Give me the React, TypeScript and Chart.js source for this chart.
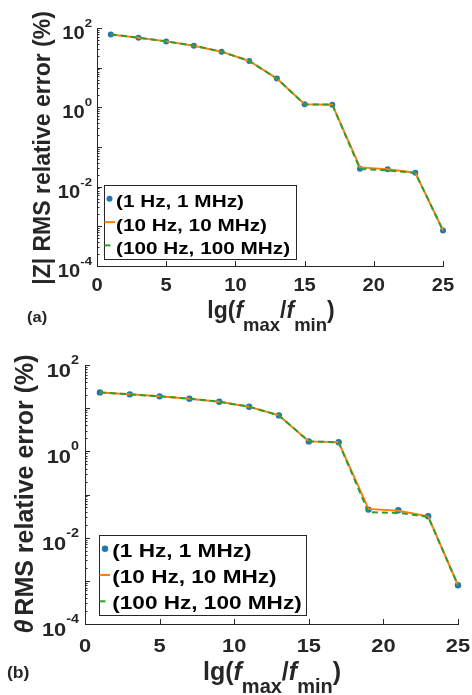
import { useEffect, useRef } from "react";
import { Chart, registerables } from "chart.js";
Chart.register(...registerables);

// ---------- data ----------
const xValues = [1, 3, 5, 7, 9, 11, 13, 15, 17, 19, 21, 23, 25];
const seriesLabels = ["(1 Hz, 1 MHz)", "(10 Hz, 10 MHz)", "(100 Hz, 100 MHz)"];
const zSeries1 = [69, 57, 46, 35.8, 25.3, 14.7, 5.3, 1.19, 1.17, 0.0284, 0.0273, 0.0225, 0.00079];
const zSeries2 = [69, 57, 46, 35.8, 25.3, 14.7, 5.3, 1.19, 1.17, 0.0306, 0.0273, 0.0225, 0.00079];
const zSeries3 = [69, 57, 46, 35.8, 25.3, 14.7, 5.3, 1.19, 1.17, 0.0279, 0.0257, 0.0222, 0.00079];
const thetaSeries1 = [23.2, 20.9, 18.8, 16.6, 14.1, 10.8, 6.8, 1.7, 1.62, 0.0447, 0.043, 0.0313, 0.00079];
const thetaSeries2 = [23.2, 20.9, 18.8, 16.6, 14.1, 10.8, 6.8, 1.7, 1.62, 0.0464, 0.042, 0.0313, 0.00079];
const thetaSeries3 = [23.2, 20.9, 18.8, 16.6, 14.1, 10.8, 6.8, 1.7, 1.62, 0.0387, 0.0375, 0.0305, 0.00079];
const xTicks = [0, 5, 10, 15, 20, 25];
const yTickValues = [1e-4, 1e-2, 1, 1e2];
const yTickExponents = ["-4", "-2", "0", "2"];
const seriesColors = ["#1f77b4", "#ff7f0e", "#2ca02c"];

// ---------- layout / style ----------
const FAM = '"Liberation Sans", Arial, Helvetica, sans-serif';
const AX = "#262626";
const font = (size: number, style = "bold") => `${style} ${size}px ${FAM}`;

function measure(ctx: CanvasRenderingContext2D, s: string, f: string, hs: number) {
  ctx.save();
  ctx.font = f;
  const w = ctx.measureText(s).width * hs;
  ctx.restore();
  return w;
}
function run(ctx: CanvasRenderingContext2D, s: string, x: number, y: number, f: string, hs: number) {
  ctx.save();
  ctx.font = f;
  ctx.textAlign = "left";
  ctx.textBaseline = "alphabetic";
  ctx.translate(x, y);
  ctx.scale(hs, 1);
  ctx.fillText(s, 0, 0);
  ctx.restore();
}

const panelA = {
  id: "a",
  pad: { left: 97, top: 28, right: 29, bottom: 69 },
  data: [zSeries1, zSeries2, zSeries3],
  dot: 3,
  tick: 17.5, sup: 11.5, hs: 1.15,
  xTickBase: 24.5, yTenBase: 11, ySupBase: -1, yLabelGap: 5,
  titleMain: 23, titleSub: 18.5, titleBase: 52, titleSubOff: 12.5, titleCx: 271,
  yTitleSize: 23, yTitleX: 50, yTitleCy: 148, yTitleSymbol: "", yTitleText: "|Z| RMS relative error (%)",
  panelLabel: "(a)", panelSize: 15, panelX: 27, panelY: 322,
  legend: { left: 104, top: 185, right: 296, bottom: 259, size: 17, hs: 1.22, textX: 116, base0: 207.3, step: 23.3, markL: 104.5, markR: 115, dotX: 109.5, markOff: 8.5 },
};
const panelB = {
  id: "b",
  pad: { left: 85, top: 35, right: 14, bottom: 71 },
  data: [thetaSeries1, thetaSeries2, thetaSeries3],
  dot: 3.2,
  tick: 19, sup: 12.5, hs: 1.15,
  xTickBase: 27.5, yTenBase: 12, ySupBase: -1, yLabelGap: 6,
  titleMain: 25, titleSub: 20, titleBase: 56, titleSubOff: 13, titleCx: 272,
  yTitleSize: 25, yTitleX: 33, yTitleCy: 164, yTitleSymbol: "θ", yTitleText: "RMS relative error (%)",
  panelLabel: "(b)", panelSize: 16, panelX: 7, panelY: 348,
  legend: { left: 99, top: 205, right: 306, bottom: 285, size: 18.5, hs: 1.22, textX: 112.3, base0: 226.7, step: 26.3, markL: 99.5, markR: 110, dotX: 105, markOff: 8 },
};

type Panel = typeof panelA;

function buildChart(canvas: HTMLCanvasElement, p: Panel) {
  const decor = {
    id: "decor" + p.id,
    afterDraw(chart: any) {
      const { ctx, chartArea: ca } = chart;
      const xs = chart.scales.x;
      const ys = chart.scales.y;
      ctx.save();
      ctx.strokeStyle = AX;
      ctx.fillStyle = AX;
      ctx.lineWidth = 1;
      // y ticks (inward)
      for (let d = -4; d <= 2; d++) {
        const py = Math.round(ys.getPixelForValue(Math.pow(10, d))) + 0.5;
        ctx.beginPath();
        ctx.moveTo(ca.left, py);
        ctx.lineTo(ca.left + 5, py);
        ctx.stroke();
        if (d < 2) {
          for (let k = 2; k <= 9; k++) {
            const my = Math.round(ys.getPixelForValue(k * Math.pow(10, d))) + 0.5;
            ctx.beginPath();
            ctx.moveTo(ca.left, my);
            ctx.lineTo(ca.left + 2.5, my);
            ctx.stroke();
          }
        }
      }
      // x ticks (inward)
      for (const t of xTicks) {
        const px = Math.round(xs.getPixelForValue(t)) + 0.5;
        ctx.beginPath();
        ctx.moveTo(px, ca.bottom);
        ctx.lineTo(px, ca.bottom - 5);
        ctx.stroke();
      }
      // x tick labels
      for (const t of xTicks) {
        const px = xs.getPixelForValue(t);
        const s = String(t);
        const w = measure(ctx, s, font(p.tick), p.hs);
        run(ctx, s, px - w / 2, ca.bottom + p.xTickBase, font(p.tick), p.hs);
      }
      // y tick labels 10^n
      yTickValues.forEach((v, i) => {
        const py = ys.getPixelForValue(v);
        const wTen = measure(ctx, "10", font(p.tick), p.hs);
        const wSup = measure(ctx, yTickExponents[i], font(p.sup), p.hs);
        const x0 = ca.left - p.yLabelGap - wTen - wSup;
        run(ctx, "10", x0, py + p.yTenBase, font(p.tick), p.hs);
        run(ctx, yTickExponents[i], x0 + wTen, py + p.ySupBase, font(p.sup), p.hs);
      });
      // x title: lg(f_max/f_min)
      const parts = [
        { s: "lg(", f: font(p.titleMain), sub: false },
        { s: "f", f: font(p.titleMain, "italic bold"), sub: false },
        { s: "max", f: font(p.titleSub), sub: true },
        { s: "/", f: font(p.titleMain), sub: false },
        { s: "f", f: font(p.titleMain, "italic bold"), sub: false },
        { s: "min", f: font(p.titleSub), sub: true },
        { s: ")", f: font(p.titleMain), sub: false },
      ];
      const total = parts.reduce((a, q) => a + measure(ctx, q.s, q.f, 1), 0);
      let cx = p.titleCx - total / 2;
      const base = ca.bottom + p.titleBase;
      for (const q of parts) {
        run(ctx, q.s, cx, q.sub ? base + p.titleSubOff : base, q.f, 1);
        cx += measure(ctx, q.s, q.f, 1);
      }
      // y title (rotated)
      ctx.save();
      ctx.translate(p.yTitleX, p.yTitleCy);
      ctx.rotate(-Math.PI / 2);
      const symF = font(p.yTitleSize, "italic bold");
      const txtF = font(p.yTitleSize);
      const wSym = p.yTitleSymbol ? measure(ctx, p.yTitleSymbol, symF, 1) + 4 : 0;
      const wTxt = measure(ctx, p.yTitleText, txtF, 1);
      let tx = -(wSym + wTxt) / 2;
      if (p.yTitleSymbol) run(ctx, p.yTitleSymbol, tx, 0, symF, 1);
      tx += wSym;
      run(ctx, p.yTitleText, tx, 0, txtF, 1);
      ctx.restore();
      // panel label
      run(ctx, p.panelLabel, p.panelX, p.panelY, font(p.panelSize), 1.1);
      // legend
      const L = p.legend;
      ctx.fillStyle = "#ffffff";
      ctx.fillRect(L.left, L.top, L.right - L.left, L.bottom - L.top);
      ctx.strokeStyle = AX;
      ctx.lineWidth = 1;
      ctx.strokeRect(L.left + 0.5, L.top + 0.5, L.right - L.left, L.bottom - L.top);
      for (let i = 0; i < 3; i++) {
        const b = L.base0 + i * L.step;
        const my = b - L.markOff;
        if (i === 0) {
          ctx.fillStyle = seriesColors[0];
          ctx.beginPath();
          ctx.arc(L.dotX, my, p.dot, 0, Math.PI * 2);
          ctx.fill();
        } else {
          ctx.strokeStyle = seriesColors[i];
          ctx.lineWidth = 2;
          ctx.beginPath();
          ctx.moveTo(L.markL, my);
          ctx.lineTo(i === 2 ? L.markL + 6 : L.markR, my);
          ctx.stroke();
        }
        ctx.fillStyle = "#000000";
        run(ctx, seriesLabels[i], L.textX, b, font(L.size), L.hs);
      }
      ctx.restore();
    },
  };

  const pts = (arr: number[]) => xValues.map((x, i) => ({ x, y: arr[i] }));

  return new Chart(canvas, {
    type: "line",
    data: {
      datasets: [
        {
          label: seriesLabels[0],
          data: pts(p.data[0]),
          showLine: false,
          pointRadius: p.dot,
          pointHoverRadius: p.dot,
          pointBackgroundColor: seriesColors[0],
          pointBorderWidth: 0,
          borderColor: seriesColors[0],
          order: 3,
          clip: false,
        },
        {
          label: seriesLabels[1],
          data: pts(p.data[1]),
          borderColor: seriesColors[1],
          borderWidth: 2,
          pointRadius: 0,
          tension: 0,
          fill: false,
          order: 2,
          clip: false,
        },
        {
          label: seriesLabels[2],
          data: pts(p.data[2]),
          borderColor: seriesColors[2],
          borderWidth: 2,
          borderDash: [6, 4],
          pointRadius: 0,
          tension: 0,
          fill: false,
          order: 1,
          clip: false,
        },
      ],
    } as any,
    options: {
      responsive: false,
      animation: false,
      events: [],
      layout: { padding: p.pad },
      plugins: { legend: { display: false }, tooltip: { enabled: false } },
      scales: {
        x: {
          type: "linear",
          min: 0,
          max: 25,
          grid: { display: false, drawTicks: false },
          ticks: { display: false },
          border: { display: true, color: AX, width: 1 },
          afterFit(s: any) { s.height = 0; },
        },
        y: {
          type: "logarithmic",
          min: 1e-4,
          max: 100,
          grid: { display: false, drawTicks: false },
          ticks: { display: false },
          border: { display: true, color: AX, width: 1 },
          afterFit(s: any) { s.width = 0; },
        },
      },
    } as any,
    plugins: [decor],
  });
}

export default function App() {
  const refA = useRef<HTMLCanvasElement>(null);
  const refB = useRef<HTMLCanvasElement>(null);
  useEffect(() => {
    const a = buildChart(refA.current!, panelA);
    const b = buildChart(refB.current!, panelB);
    return () => {
      a.destroy();
      b.destroy();
    };
  }, []);
  return (
    <div style={{ position: "fixed", left: 0, top: 0, width: 472, height: 695, background: "#fff" }}>
      <canvas ref={refA} width={472} height={335} style={{ position: "absolute", left: 0, top: 0, width: 472, height: 335 }} />
      <canvas ref={refB} width={472} height={365} style={{ position: "absolute", left: 0, top: 330, width: 472, height: 365 }} />
    </div>
  );
}
